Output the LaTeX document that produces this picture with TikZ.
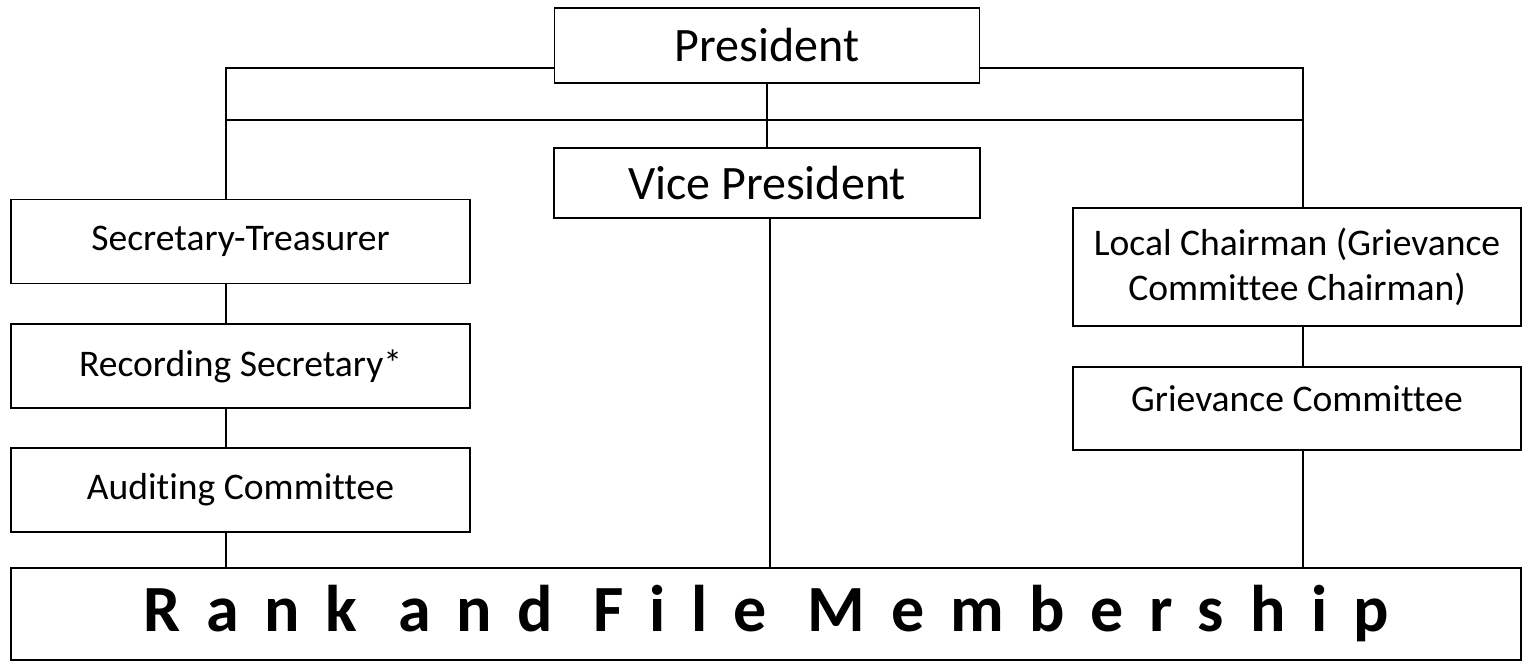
\documentclass[tikz,border=0pt]{standalone}
\usepackage{fontspec}
\setmainfont{Carlito}[Ligatures=CommonOff]
\usepackage{tikz}

\begin{document}
\begin{tikzpicture}[x=0.5pt,y=-0.5pt,
    post/.style={draw,line width=0.9pt,align=center,inner sep=0pt,
                 font=\fontsize{18.8}{22.5}\selectfont},
    lifted/.style={text height=14pt,text depth=11.5pt},
    head/.style={font=\fontsize{24}{28}\selectfont},
    link/.style={line width=0.9pt}]
      \useasboundingbox (0,0) rectangle (1528,661);

      \node[post,head,minimum width=212.5pt,minimum height=37.5pt] (pres) at (767,45.5) {President};
      \node[post,head,minimum width=213pt,minimum height=35pt] (vp) at (767,183) {Vice President};

      \node[post,minimum width=229.5pt,minimum height=42pt] (sec) at (240.5,241.5) {Secretary-Treasurer};
      \node[post,minimum width=229.5pt,minimum height=42pt] (rec) at (240.5,366) {Recording Secretary*};
      \node[post,minimum width=229.5pt,minimum height=42pt] (aud) at (240.5,490) {Auditing Committee};

      \node[post,minimum width=224pt,minimum height=59pt] (lc) at (1297,267) {Local Chairman (Grievance\\Committee Chairman)};
      \node[post,lifted,minimum width=224pt,minimum height=41.5pt] (gc) at (1297,408.5) {Grievance Committee};

      \node[post,minimum width=755pt,minimum height=46pt,font=\fontsize{33}{38}\bfseries\addfontfeature{LetterSpace=39}] (rank) at (766,614) {Rank and File Membership};

      \coordinate (busL) at (226,120);
      \coordinate (busR) at (1303,120);

      \draw[link] ([yshift=8pt]pres.south west) -| ([xshift=-7.25pt]sec.north);
      \draw[link] ([yshift=8pt]pres.south east) -| ([xshift=3pt]lc.north);
      \draw[link] (busL) -- (busR);
      \draw[link] (pres.south) -- (vp.north);
      \draw[link] ([xshift=1.5pt]vp.south) -- ([xshift=1.5pt]vp.south |- rank.north);

      \draw[link] ([xshift=-7.25pt]sec.south) -- ([xshift=-7.25pt]rec.north);
      \draw[link] ([xshift=-7.25pt]rec.south) -- ([xshift=-7.25pt]aud.north);
      \draw[link] ([xshift=-7.25pt]aud.south) -- ([xshift=-7.25pt]aud.south |- rank.north);

      \draw[link] ([xshift=3pt]lc.south) -- ([xshift=3pt]gc.north);
      \draw[link] ([xshift=3pt]gc.south) -- ([xshift=3pt]gc.south |- rank.north);
    \end{tikzpicture}
\end{document}
